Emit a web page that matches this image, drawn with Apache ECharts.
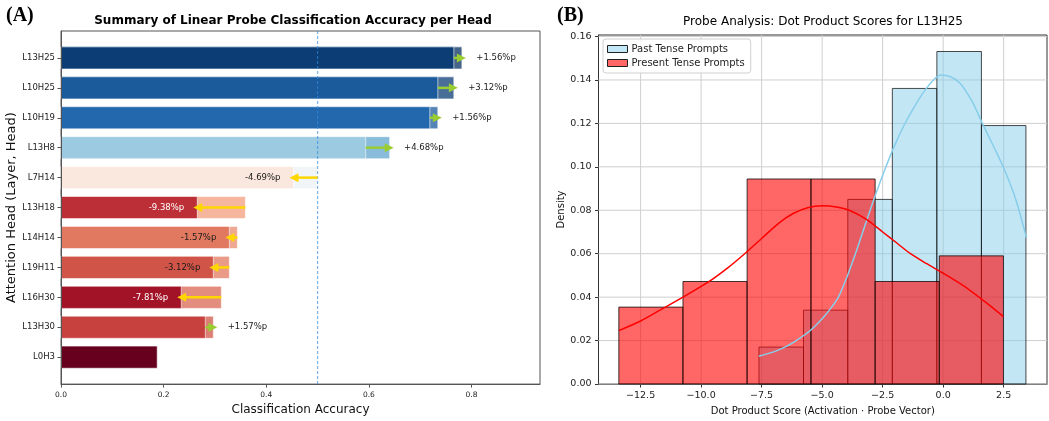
<!DOCTYPE html>
<html><head><meta charset="utf-8">
<script src="https://cdn.jsdelivr.net/npm/echarts@6/dist/echarts.min.js"></script>
<style>html,body{margin:0;padding:0;background:#fff}#c{width:1049px;height:421px}</style>
</head><body><div id="c"></div>
<script>
// ---------- Panel A data ----------
const heads = ['L13H25','L10H25','L10H19','L13H8','L7H14','L13H18','L14H14','L19H11','L16H30','L13H30','L0H3'];
const baseAcc = [0.7656,0.7344,0.7188,0.5938,0.5000,0.3594,0.3438,0.3281,0.3125,0.2813,0.1875];
const newAcc  = [0.7813,0.7656,0.7344,0.6406,0.4531,0.2656,0.3281,0.2969,0.2344,0.2969,0.1875];
const deltaLabels = ['+1.56%p','+3.12%p','+1.56%p','+4.68%p','-4.69%p','-9.38%p','-1.57%p','-3.12%p','-7.81%p','+1.57%p',''];
const xTicksA = [0, 0.2, 0.4, 0.6, 0.8];
const chanceLevel = 0.5;

// ---------- Panel B data ----------
const pastEdges = [-7.61,-5.77,-3.94,-2.10,-0.26,1.58,3.42];
const pastDensity = [0.0170,0.0340,0.0850,0.1361,0.1531,0.1190];
const presentEdges = [-13.40,-10.75,-8.10,-5.46,-2.81,-0.16,2.49];
const presentDensity = [0.0354,0.0472,0.0944,0.0944,0.0472,0.0590];
const pastKde = [[-7.62,0.0128],[-7.0,0.0148],[-6.5,0.0172],[-6.07,0.0200],[-5.5,0.0245],[-5.0,0.0300],[-4.6,0.0355],[-4.33,0.0400],[-3.95,0.0500],[-3.56,0.0620],[-3.2,0.0740],[-2.8,0.0870],[-2.4,0.0990],[-2.0,0.1100],[-1.6,0.1195],[-1.2,0.1275],[-0.8,0.1345],[-0.4,0.1400],[-0.1,0.1423],[0.3,0.1415],[0.7,0.1385],[1.2,0.1300],[1.62,0.1200],[2.1,0.1090],[2.52,0.0990],[3.0,0.0850],[3.44,0.0673]];
const presentKde = [[-13.40,0.0246],[-12.5,0.0290],[-11.7,0.0340],[-10.75,0.0400],[-9.7,0.0470],[-8.9,0.0535],[-8.2,0.0600],[-7.5,0.0670],[-6.8,0.0740],[-6.2,0.0785],[-5.6,0.0812],[-5.0,0.0821],[-4.4,0.0815],[-3.88,0.0800],[-3.2,0.0760],[-2.5,0.0700],[-1.9,0.0648],[-1.35,0.0600],[-0.7,0.0555],[0.0,0.0510],[0.8,0.0455],[1.48,0.0400],[2.0,0.0355],[2.49,0.0310]];
const xTicksB = [-12.5,-10,-7.5,-5,-2.5,0,2.5];
const yTicksB = [0,0.02,0.04,0.06,0.08,0.10,0.12,0.14,0.16];

// ---------- colour helpers (RdBu) ----------
const RDBU = ['#67001f','#b2182b','#d6604d','#f4a582','#fddbc7','#f7f7f7','#d1e5f0','#92c5de','#4393c3','#2166ac','#053061'];
function hexRgb(h){return [parseInt(h.slice(1,3),16),parseInt(h.slice(3,5),16),parseInt(h.slice(5,7),16)];}
function rdbu(t){t=Math.max(0,Math.min(1,t));const s=t*10;const i=Math.min(9,Math.floor(s));const f=s-i;const a=hexRgb(RDBU[i]),b=hexRgb(RDBU[i+1]);return a.map((v,k)=>Math.round(v+(b[k]-v)*f));}
const allAcc = baseAcc.concat(newAcc);
const vMin = Math.min(...allAcc), vMax = Math.max(...allAcc);
function accRgb(v){return rdbu((v-vMin)/(vMax-vMin));}
function rgba(c,a){return 'rgba('+c[0]+','+c[1]+','+c[2]+','+a+')';}
function lum(c){return 0.299*c[0]+0.587*c[1]+0.114*c[2];}

const FONT = 'DejaVu Sans';
const BAR_HALF = 0.37;
const X_MAX_A = 0.9335;
const headData = heads.map((h,i)=>[i, baseAcc[i], newAcc[i]]);

function renderBars(params, api){
  const i=api.value(0), a=api.value(1), b=api.value(2);
  const lo=Math.min(a,b), hi=Math.max(a,b);
  const p0=api.coord([0,i-BAR_HALF]), p1=api.coord([hi,i+BAR_HALF]), pl=api.coord([lo,i+BAR_HALF]);
  const y=Math.min(p0[1],p1[1]), h=Math.abs(p1[1]-p0[1]);
  const children=[];
  if(hi>lo){children.push({type:'rect',shape:{x:p0[0],y:y,width:p1[0]-p0[0],height:h},style:{fill:rgba(accRgb(hi),0.75),stroke:'rgba(255,255,255,0.6)',lineWidth:1}});}
  children.push({type:'rect',shape:{x:p0[0],y:y,width:pl[0]-p0[0],height:h},style:{fill:rgba(accRgb(lo),1),stroke:'rgba(255,255,255,0.6)',lineWidth:1}});
  return {type:'group',children:children};
}

function renderArrows(params, api){
  const i=api.value(0), a=api.value(1), b=api.value(2);
  if(a===b) return {type:'group',children:[]};
  const dir=b>a?1:-1;
  const ps=api.coord([a,i]), pe=api.coord([b,i]);
  const y=ps[1];
  const tipX=pe[0]+dir*4;
  const headL=9, headW=4.5;
  const baseX=tipX-dir*headL;
  const color=dir>0?'#9acd32':'#ffd700';
  const children=[];
  if((baseX-ps[0])*dir>0){children.push({type:'polyline',shape:{points:[[ps[0],y],[baseX+dir*1,y]]},style:{stroke:color,lineWidth:2.5,fill:null}});}
  children.push({type:'polygon',shape:{points:[[tipX,y],[baseX,y-headW],[baseX,y+headW]]},style:{fill:color,stroke:null}});
  return {type:'group',children:children};
}

function renderLabels(params, api){
  const i=api.value(0), a=api.value(1), b=api.value(2);
  const idx=params.dataIndex;
  if(a===b) return {type:'group',children:[]};
  let tp, align, fill;
  if(b>a){tp=api.coord([b+0.028,i]);align='left';fill='#1a1a1a';}
  else{tp=api.coord([b-0.06,i]);align='center';fill=lum(accRgb(Math.min(a,b)))<100?'#ffffff':'#1a1a1a';}
  return {type:'text',style:{x:tp[0],y:tp[1],text:deltaLabels[idx],fill:fill,fontSize:8.5,fontFamily:FONT,align:align,verticalAlign:'middle'}};
}

function histData(edges, dens){return dens.map((d,i)=>[edges[i],edges[i+1],d]);}
function makeHistRender(fill, stroke){
  return function(params, api){
    const x0=api.value(0), x1=api.value(1), d=api.value(2);
    const p0=api.coord([x0,d]), p1=api.coord([x1,0]);
    return {type:'rect',shape:{x:p0[0],y:p0[1],width:p1[0]-p0[0],height:p1[1]-p0[1]},style:{fill:fill,stroke:stroke,lineWidth:1}};
  };
}

function renderGridLines(params, api){
  const children=[];
  const yMinB=0, yMaxB=0.1607, xMinB=-14.24, xMaxB=4.29;
  xTicksB.forEach(v=>{const p0=api.coord([v,yMinB]),p1=api.coord([v,yMaxB]);children.push({type:'polyline',shape:{points:[p0,p1]},style:{stroke:'#cfcfcf',lineWidth:1,fill:null}});});
  yTicksB.forEach(v=>{const p0=api.coord([xMinB,v]),p1=api.coord([xMaxB,v]);children.push({type:'polyline',shape:{points:[p0,p1]},style:{stroke:'#cfcfcf',lineWidth:1,fill:null}});});
  return {type:'group',children:children};
}

const chart = echarts.init(document.getElementById('c'), null, {renderer:'canvas'});
const axisLabelCol = '#222';
const option = {
  animation:false,
  textStyle:{fontFamily:FONT},
  graphic:[
    {type:'text',x:6,y:6,style:{text:'(A)',fill:'#000',font:'bold 20px "Liberation Serif"'}},
    {type:'text',x:557,y:6,style:{text:'(B)',fill:'#000',font:'bold 20px "Liberation Serif"'}},
    {type:'text',x:293,y:21,style:{text:'Summary of Linear Probe Classification Accuracy per Head',fill:'#000',font:'bold 12px "DejaVu Sans"',align:'center',verticalAlign:'middle'}},
    {type:'text',x:823,y:22,style:{text:'Probe Analysis: Dot Product Scores for L13H25',fill:'#000',font:'12px "DejaVu Sans"',align:'center',verticalAlign:'middle'}}
  ],
  legend:{
    orient:'vertical', left:603, top:39,
    data:[
      {name:'Past Tense Prompts',icon:'rect',itemStyle:{color:'#c3e7f5',borderColor:'#222',borderWidth:1}},
      {name:'Present Tense Prompts',icon:'rect',itemStyle:{color:'#ff6666',borderColor:'#222',borderWidth:1}}
    ],
    itemWidth:20, itemHeight:7, itemGap:4,
    textStyle:{fontSize:10,color:'#222',fontFamily:FONT,padding:[0,0,0,-1]},
    backgroundColor:'rgba(255,255,255,0.85)', borderColor:'#d0d0d0', borderWidth:1, borderRadius:3,
    padding:[5,6,5,4], selectedMode:false
  },
  grid:[
    {left:61, top:31, width:479, height:357, show:true, borderColor:'#555', borderWidth:1, backgroundColor:'transparent'},
    {left:598.5, top:35, width:448.5, height:352, show:true, borderColor:'#333', borderWidth:1, backgroundColor:'transparent'}
  ],
  xAxis:[
    {gridIndex:0,type:'value',min:0,max:X_MAX_A,
     name:'Classification Accuracy',nameLocation:'middle',nameGap:18,nameTextStyle:{fontSize:12,color:'#111'},
     axisLine:{show:true,onZero:false,lineStyle:{color:'#555'}},
     axisTick:{show:true,length:3.5,customValues:xTicksA,lineStyle:{color:'#555'}},
     axisLabel:{customValues:xTicksA,fontSize:7.5,color:axisLabelCol,margin:7,formatter:v=>v.toFixed(1)},
     splitLine:{show:false}},
    {gridIndex:1,type:'value',min:-14.24,max:4.29,
     name:'Dot Product Score (Activation \u00b7 Probe Vector)',nameLocation:'middle',nameGap:22,nameTextStyle:{fontSize:10,color:'#111'},
     axisLine:{show:true,onZero:false,lineStyle:{color:'#333'}},
     axisTick:{show:true,length:3.5,customValues:xTicksB,lineStyle:{color:'#333'}},
     axisLabel:{customValues:xTicksB,fontSize:9.5,color:axisLabelCol,margin:7,formatter:v=>(v<0?'\u2212':'')+Math.abs(v).toFixed(1)},
     splitLine:{show:false}}
  ],
  yAxis:[
    {gridIndex:0,type:'value',min:-0.9,max:10.9,inverse:true,z:5,
     name:'Attention Head (Layer, Head)',nameLocation:'middle',nameGap:41,nameTextStyle:{fontSize:13,color:'#111'},
     axisLine:{show:true,onZero:false,lineStyle:{color:'#555'}},
     axisTick:{show:true,length:3.5,customValues:heads.map((_,i)=>i),lineStyle:{color:'#555'}},
     axisLabel:{customValues:heads.map((_,i)=>i),fontSize:8.5,color:axisLabelCol,margin:6,formatter:v=>heads[Math.round(v)]||''},
     splitLine:{show:false}},
    {gridIndex:1,type:'value',min:0,max:0.1607,
     name:'Density',nameLocation:'middle',nameGap:31,nameTextStyle:{fontSize:10,color:'#111'},
     axisLine:{show:true,onZero:false,lineStyle:{color:'#333'}},
     axisTick:{show:true,length:3.5,customValues:yTicksB,lineStyle:{color:'#333'}},
     axisLabel:{customValues:yTicksB,fontSize:9.5,color:axisLabelCol,margin:7,formatter:v=>v.toFixed(2)},
     splitLine:{show:false}}
  ],
  series:[
    {type:'custom',name:'bars',xAxisIndex:0,yAxisIndex:0,data:headData,renderItem:renderBars,encode:{x:[1,2],y:0},silent:true,z:2},
    {type:'custom',name:'chance',xAxisIndex:0,yAxisIndex:0,data:[[chanceLevel]],silent:true,z:3,
     renderItem:function(params,api){const p0=api.coord([api.value(0),-0.9]),p1=api.coord([api.value(0),10.9]);
       return {type:'polyline',shape:{points:[p0,p1]},style:{stroke:'rgba(52,140,220,0.65)',lineWidth:1.2,lineDash:[3,2],fill:null}};}},
    {type:'custom',name:'arrows',xAxisIndex:0,yAxisIndex:0,data:headData,renderItem:renderArrows,encode:{x:[1,2],y:0},silent:true,z:4},
    {type:'custom',name:'labels',xAxisIndex:0,yAxisIndex:0,data:headData,renderItem:renderLabels,encode:{x:[1,2],y:0},silent:true,z:4},
    {type:'custom',name:'gridlines',xAxisIndex:1,yAxisIndex:1,data:[[0,0]],renderItem:renderGridLines,silent:true,z:1},
    {type:'custom',name:'Past Tense Prompts',xAxisIndex:1,yAxisIndex:1,data:histData(pastEdges,pastDensity),
     renderItem:makeHistRender('rgba(135,206,235,0.5)','rgba(0,0,0,0.7)'),encode:{x:[0,1],y:2},silent:true,z:2},
    {type:'line',name:'Past KDE',xAxisIndex:1,yAxisIndex:1,data:pastKde,smooth:0.3,symbol:'none',silent:true,z:2,
     lineStyle:{color:'#87ceeb',width:1.5}},
    {type:'custom',name:'Present Tense Prompts',xAxisIndex:1,yAxisIndex:1,data:histData(presentEdges,presentDensity),
     renderItem:makeHistRender('rgba(255,0,0,0.6)','rgba(0,0,0,0.75)'),encode:{x:[0,1],y:2},silent:true,z:2},
    {type:'line',name:'Present KDE',xAxisIndex:1,yAxisIndex:1,data:presentKde,smooth:0.3,symbol:'none',silent:true,z:2,
     lineStyle:{color:'#ff0000',width:1.5}}
  ]
};
chart.setOption(option);
</script>
</body></html>
